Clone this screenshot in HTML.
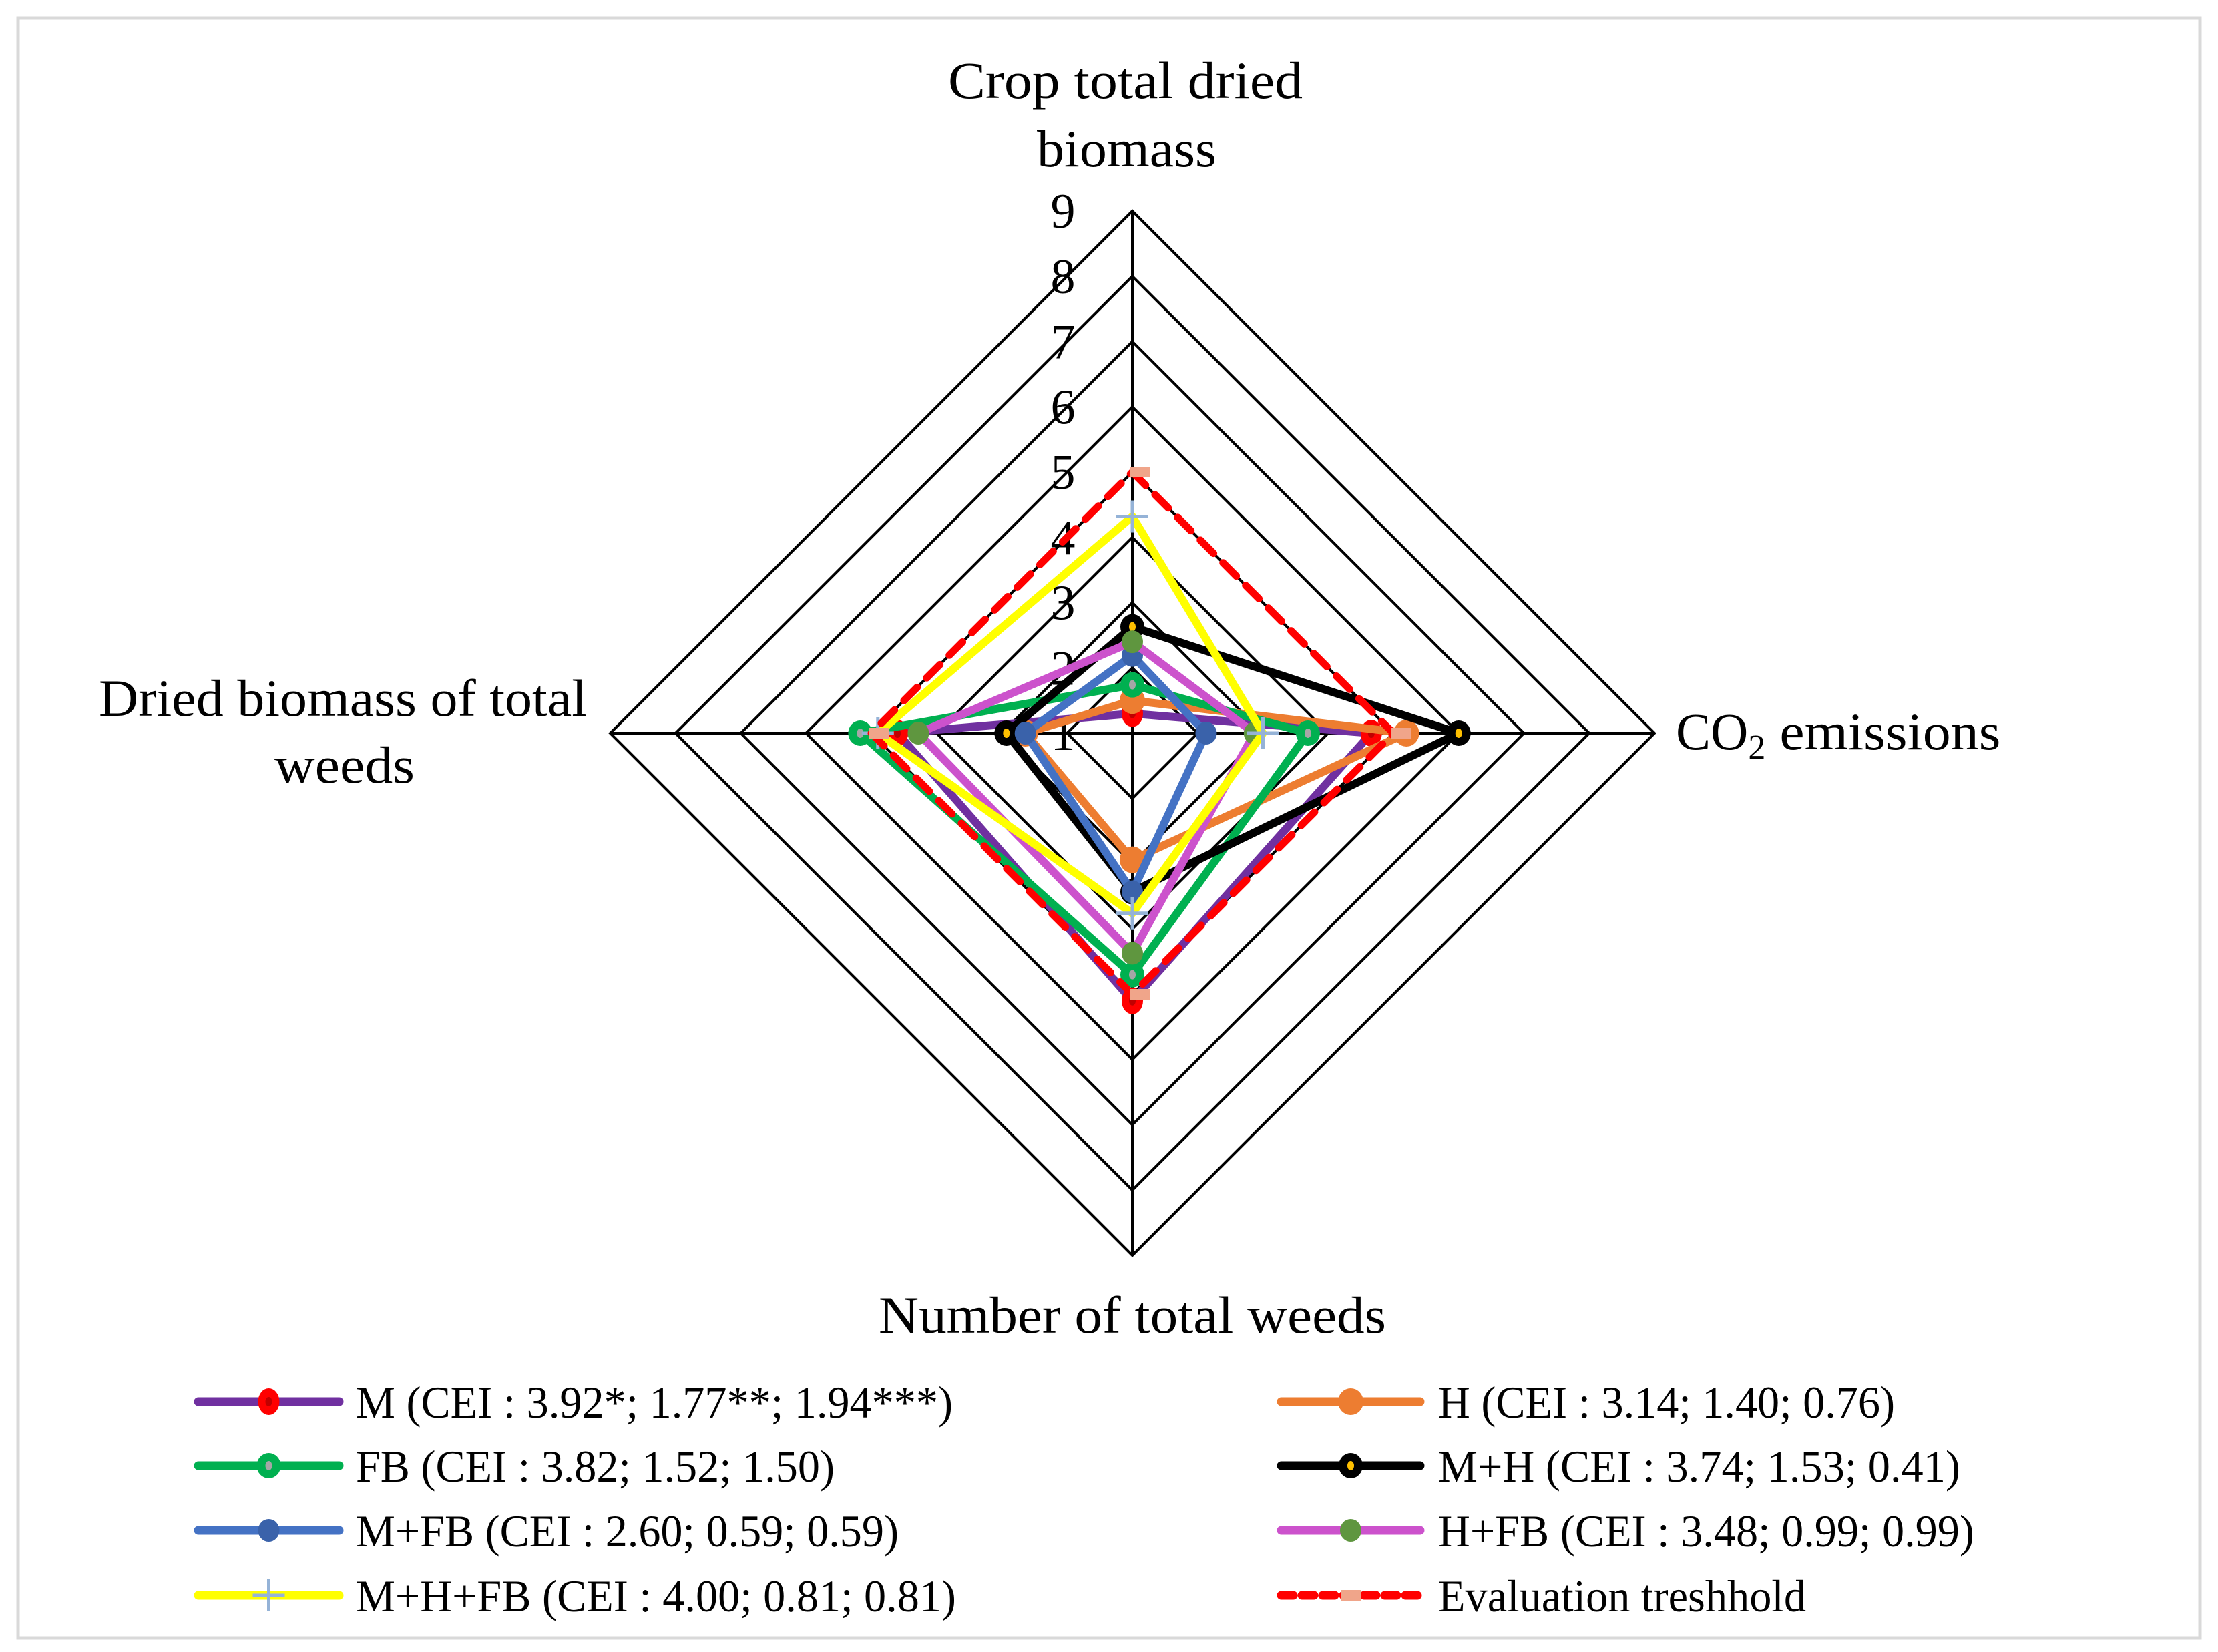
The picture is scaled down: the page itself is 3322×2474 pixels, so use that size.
<!DOCTYPE html>
<html><head><meta charset="utf-8"><style>
html,body{margin:0;padding:0;background:#fff;}
svg{display:block;font-family:"Liberation Serif",serif;}
</style></head><body>
<svg id="chart" width="3322" height="2474" viewBox="0 0 3322 2474" xmlns="http://www.w3.org/2000/svg">
<rect x="27" y="27" width="3268" height="2426" fill="#fff" stroke="#d9d9d9" stroke-width="5"/>
<g id="grid"></g>
<g id="ticks"></g>
<g id="series"></g>
<g font-size="78" fill="#000">
<text x="1420" y="147" textLength="531" lengthAdjust="spacingAndGlyphs">Crop total dried</text>
<text x="1553" y="249" textLength="269" lengthAdjust="spacingAndGlyphs">biomass</text>
<text x="2510" y="1122">CO<tspan font-size="52" dy="14">2</tspan><tspan dy="-14" textLength="352" lengthAdjust="spacingAndGlyphs"> emissions</tspan></text>
<text x="1316" y="1996" textLength="760" lengthAdjust="spacingAndGlyphs">Number of total weeds</text>
<text x="148" y="1072" textLength="731" lengthAdjust="spacingAndGlyphs">Dried biomass of total</text>
<text x="411" y="1172" textLength="210" lengthAdjust="spacingAndGlyphs">weeds</text>
</g>
<g id="legend"></g>
</svg>
<script>
const categories = ["Crop total dried biomass","CO2 emissions","Number of total weeds","Dried biomass of total weeds"];
const tickLabels = ["1","2","3","4","5","6","7","8","9"];
const seriesNames = ["M (CEI : 3.92*; 1.77**; 1.94***)","H (CEI : 3.14; 1.40; 0.76)","FB (CEI : 3.82; 1.52; 1.50)","M+H (CEI : 3.74; 1.53; 0.41)","M+FB (CEI : 2.60; 0.59; 0.59)","H+FB (CEI : 3.48; 0.99; 0.99)","M+H+FB (CEI : 4.00; 0.81; 0.81)","Evaluation treshhold"];
const valuesM = [1.3, 4.66, 5.1, 4.6];
const valuesH = [1.5, 5.2, 2.94, 2.64];
const valuesFB = [1.74, 3.69, 4.7, 5.17];
const valuesMH = [2.63, 6.0, 3.43, 2.93];
const valuesMFB = [2.19, 2.13, 3.43, 2.64];
const valuesHFB = [2.4, 2.87, 4.37, 4.28];
const valuesMHFB = [4.32, 3.0, 3.76, 4.9];
const valuesThreshold = [5, 5, 5, 5];

const NS="http://www.w3.org/2000/svg";
const cx=1696, cy=1098, minV=1, maxV=9, R=782;
function r(v){return (v-minV)/(maxV-minV)*R;}
function pt(i,v){const a=-Math.PI/2+i*Math.PI/2;return [cx+r(v)*Math.cos(a), cy+r(v)*Math.sin(a)];}
function mk(tag,attrs,parent){const e=document.createElementNS(NS,tag);for(const k in attrs)e.setAttribute(k,attrs[k]);parent.appendChild(e);return e;}

const grid=document.getElementById('grid');
for(let t=2;t<=9;t++){
  const p=categories.map((c,i)=>pt(i,t).join(',')).join(' ');
  const g=mk('polygon',{points:p,fill:'none',stroke:'#000','stroke-width':4},grid);
  
  
}
categories.forEach((c,i)=>{
  const [x,y]=pt(i,9);
  const l=mk('line',{x1:cx,y1:cy,x2:x,y2:y,stroke:'#000','stroke-width':4},grid);
  
  
});
const ticks=document.getElementById('ticks');
tickLabels.forEach(s=>{
  const v=parseFloat(s);const [x,y]=pt(0,v);
  const t=mk('text',{x:cx-104,y:y+25,'font-size':74,'text-anchor':'middle',fill:'#000'},ticks);
  t.textContent=s;
  
  
});

const styles=[
 {data:valuesM,color:'#7030a0',marker:'red'},
 {data:valuesH,color:'#ed7d31',marker:'orange'},
 {data:valuesFB,color:'#00b050',marker:'greenring'},
 {data:valuesMH,color:'#000000',marker:'black'},
 {data:valuesMFB,color:'#4472c4',marker:'blue'},
 {data:valuesHFB,color:'#cc52cc',marker:'olive'},
 {data:valuesMHFB,color:'#ffff00',marker:'plus'},
 {data:valuesThreshold,color:'#ff0000',marker:'square',dash:true}
];
function drawMarker(type,x,y,parent){
  let e;
  if(type==='red'){e=mk('g',{},parent);mk('ellipse',{cx:x,cy:y,rx:16,ry:20,fill:'#ff0000'},e);mk('ellipse',{cx:x,cy:y,rx:5,ry:7,fill:'#c00000'},e);}
  else if(type==='orange'){e=mk('ellipse',{cx:x,cy:y,rx:19,ry:20,fill:'#ed7d31'},parent);}
  else if(type==='greenring'){e=mk('g',{},parent);mk('ellipse',{cx:x,cy:y,rx:18,ry:19,fill:'#00b050'},e);mk('ellipse',{cx:x,cy:y,rx:5,ry:7,fill:'#a6a6a6'},e);}
  else if(type==='black'){e=mk('g',{},parent);mk('ellipse',{cx:x,cy:y,rx:18,ry:19,fill:'#000'},e);mk('ellipse',{cx:x,cy:y,rx:5,ry:7,fill:'#ffc000'},e);}
  else if(type==='blue'){e=mk('ellipse',{cx:x,cy:y,rx:16,ry:17,fill:'#3a62aa'},parent);}
  else if(type==='olive'){e=mk('ellipse',{cx:x,cy:y,rx:16,ry:17,fill:'#5f963f'},parent);}
  else if(type==='plus'){e=mk('path',{d:`M${x-24} ${y}H${x+24}M${x} ${y-24}V${y+24}`,stroke:'#95b3d7','stroke-width':5,fill:'none'},parent);}
  else {e=mk('rect',{x:x-3,y:y-8,width:30,height:16,fill:'#f0a58a'},parent);}
  
  
}
const ser=document.getElementById('series');
styles.forEach((s,k)=>{
  const g=mk('g',{},ser);
  
  
  const p=s.data.map((v,i)=>pt(i,v).join(',')).join(' ');
  const poly=mk('polygon',{points:p,fill:'none',stroke:s.color,'stroke-width':s.dash?11:12,'stroke-linejoin':'round','stroke-linecap':'round'},g);
  if(s.dash){poly.setAttribute('stroke-dasharray','28 20');}
  
  
  s.data.forEach((v,i)=>{const [x,y]=pt(i,v);drawMarker(s.marker,x,y,g);});
});

const leg=document.getElementById('legend');
const legX=[291,1913], legLen=[223,220], textX=[533,2154];
const rowsY=[2099,2195,2292,2389];
const textEnd=[1427,2838,1250,2936,1346,2957,1432,2705];
styles.forEach((s,k)=>{
  const col=k%2,row=Math.floor(k/2);
  const y=rowsY[row],x0=legX[col],x1=x0+legLen[col];
  const g=mk('g',{},leg);
  
  
  const l=mk('line',{x1:x0+6,y1:y,x2:x1-6,y2:y,stroke:s.color,'stroke-width':13,'stroke-linecap':'round'},g);
  if(s.dash){l.setAttribute('stroke-dasharray','18 13');}
  drawMarker(s.marker,(x0+x1)/2-(s.marker==='square'?12:0),y,g);
  const t=mk('text',{x:textX[col],y:y+24,'font-size':68,fill:'#000',textLength:textEnd[k]-textX[col],lengthAdjust:'spacingAndGlyphs'},g);
  t.textContent=seriesNames[k];
  
  
});
</script>
</body></html>
